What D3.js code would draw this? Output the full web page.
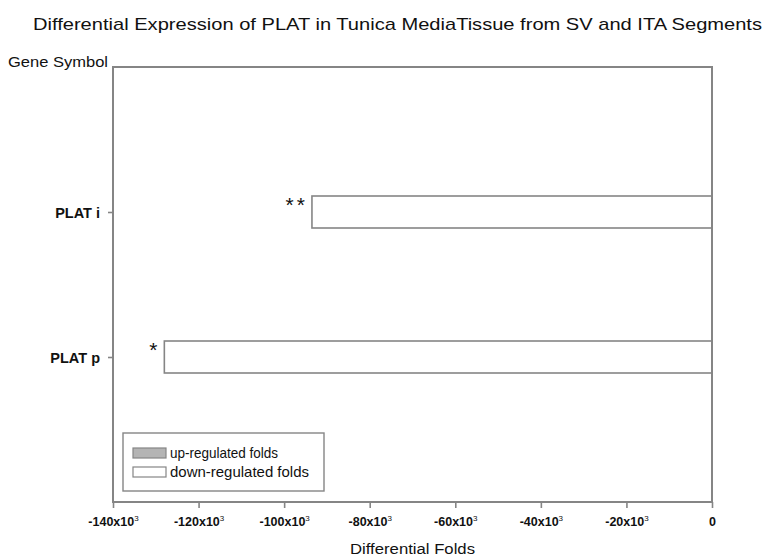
<!DOCTYPE html>
<html><head><meta charset="utf-8">
<script src="https://cdn.jsdelivr.net/npm/d3@7"></script>
<style>body{margin:0;background:#fff;} text{font-family:"Liberation Sans",Arial,sans-serif;}</style>
</head><body><svg id="c" width="769" height="560"></svg>
<script>
const genes = ["PLAT i", "PLAT p"];
const downFolds = [-93500, -128000];
const significance = ["**", "*"];
const xTicks = [-140000, -120000, -100000, -80000, -60000, -40000, -20000, 0];
const legendLabels = ["up-regulated folds", "down-regulated folds"];
const legendFills = ["#b4b4b4", "#ffffff"];

const svg = d3.select("#c");
const m = {l:113, r:712, t:67, b:502};
const x = d3.scaleLinear().domain([-140000, 0]).range([m.l, m.r]);
const y = d3.scalePoint().domain(genes).range([m.t, m.b]).padding(1);
const gray = "#858585";

svg.append("text").attr("x", 33).attr("y", 30)
  .attr("font-size", 17).attr("fill","#111")
  .attr("textLength", 729).attr("lengthAdjust","spacingAndGlyphs")
  .text("Differential  Expression of PLAT in Tunica MediaTissue from SV and ITA Segments");
svg.append("text").attr("x", 8).attr("y", 67).attr("font-size", 15).attr("fill","#111")
  .attr("textLength", 100).attr("lengthAdjust","spacingAndGlyphs")
  .text("Gene Symbol");

// bars
const bh = 32;
svg.selectAll("rect.bar").data(genes).join("rect").attr("class","bar")
  .attr("x", (d,i)=>x(downFolds[i])).attr("width",(d,i)=>x(0)-x(downFolds[i]))
  .attr("y", d=>y(d)-bh/2).attr("height", bh)
  .attr("fill","#fff").attr("stroke",gray).attr("stroke-width",1.6);

svg.selectAll("text.sig").data(genes).join("text").attr("class","sig")
  .attr("x",(d,i)=>x(downFolds[i])-4).attr("y", d=>y(d))
  .attr("text-anchor","end").attr("font-size",21).attr("letter-spacing",3).attr("fill","#111")
  .text((d,i)=>significance[i]);

// frame
svg.append("rect").attr("x",m.l).attr("y",m.t).attr("width",m.r-m.l).attr("height",m.b-m.t)
  .attr("fill","none").attr("stroke",gray).attr("stroke-width",2);

// x axis
const xa = svg.append("g").attr("transform",`translate(0,${m.b})`)
  .call(d3.axisBottom(x).tickValues(xTicks).tickSize(6).tickFormat(()=>""));
xa.select(".domain").remove();
xa.selectAll(".tick line").attr("stroke",gray).attr("stroke-width",1.6);
xa.selectAll(".tick").each(function(d){
  const t = d3.select(this).append("text").attr("y",24).attr("text-anchor","middle")
    .attr("fill","#111").attr("font-size",12.5).attr("font-weight","bold");
  if (d===0) { t.text("0"); }
  else {
    t.append("tspan").text(`${d/1000}x10`);
    t.append("tspan").attr("dy",-5).attr("font-size",8).attr("font-weight","normal").text("3");
  }
});
svg.append("text").attr("x",(m.l+m.r)/2).attr("y",554).attr("text-anchor","middle")
  .attr("font-size",15.5).attr("fill","#111")
  .attr("textLength", 125).attr("lengthAdjust","spacingAndGlyphs").text("Differential Folds");

// y axis
const ya = svg.append("g").attr("transform",`translate(${m.l},0)`)
  .call(d3.axisLeft(y).tickSize(5).tickPadding(8));
ya.select(".domain").remove();
ya.selectAll(".tick line").attr("stroke",gray).attr("stroke-width",1.6);
ya.selectAll(".tick text").attr("font-size",14.5).attr("font-weight","bold").attr("fill","#111")
  .attr("font-family","'Liberation Sans',Arial").attr("dy","0.4em");

// legend
const lg = svg.append("g");
lg.append("rect").attr("x",123).attr("y",433).attr("width",201).attr("height",58)
  .attr("fill","#fff").attr("stroke",gray).attr("stroke-width",1.4);
legendLabels.forEach((l,i)=>{
  lg.append("rect").attr("x",133).attr("y",448+i*19).attr("width",33).attr("height",10)
    .attr("fill",legendFills[i]).attr("stroke",gray).attr("stroke-width",1.2);
  lg.append("text").attr("x",170).attr("y",457.5+i*19).attr("font-size",14.5).attr("fill","#111")
    .attr("textLength", i===0 ? 108 : 139).attr("lengthAdjust","spacingAndGlyphs").text(l);
});
</script></body></html>
